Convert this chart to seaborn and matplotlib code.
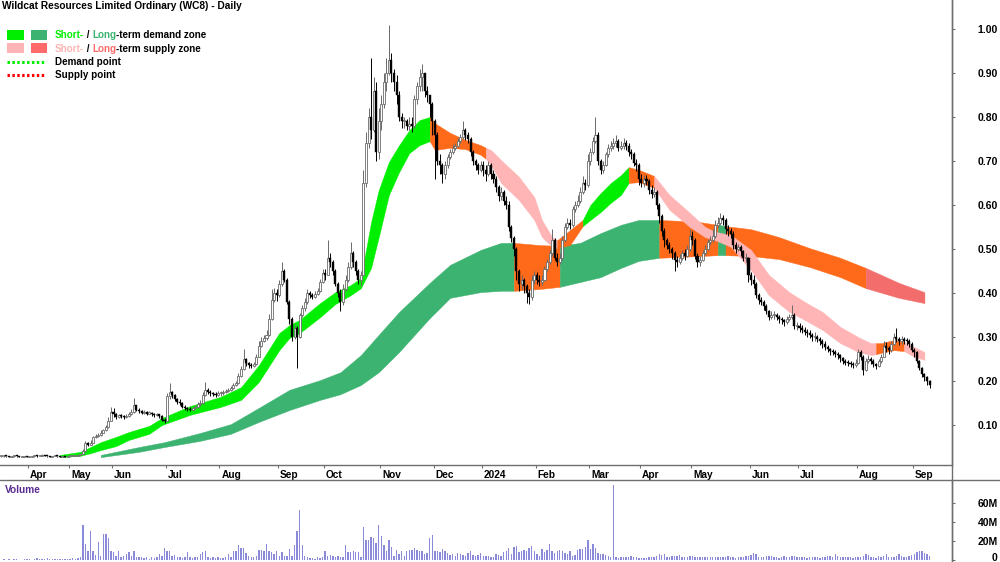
import numpy as np
import pandas as pd
import matplotlib
matplotlib.use("Agg")
import matplotlib.pyplot as plt
import seaborn as sns
from matplotlib.transforms import ScaledTranslation
from matplotlib.lines import Line2D
from matplotlib.patches import Rectangle

# ---------------- data ----------------
title = "Wildcat Resources Limited Ordinary (WC8) - Daily"
month_labels = ["Apr", "May", "Jun", "Jul", "Aug", "Sep", "Oct", "Nov", "Dec", "2024",
                "Feb", "Mar", "Apr", "May", "Jun", "Jul", "Aug", "Sep"]
# trading days per month, Mar-2023 .. Sep-2024
days_per_month = [11, 16, 17, 21, 21, 23, 18, 22, 21, 19, 21, 21, 20, 20, 23, 19, 23, 22, 7]

close = [
    0.029,0.030,0.029,0.028,0.029,0.030,0.029,0.028,0.028,0.029,0.028,
    0.028,0.029,0.030,0.029,0.030,0.031,0.030,0.029,0.028,0.029,0.030,0.029,0.028,0.029,0.028,0.029,
    0.029,0.030,0.030,0.031,0.033,0.040,0.058,0.055,0.060,0.072,0.075,0.078,0.082,0.088,0.095,0.110,0.130,
    0.125,0.118,0.122,0.120,0.118,0.121,0.125,0.130,0.145,0.135,0.132,0.128,0.130,0.126,0.128,0.125,0.123,0.125,0.120,0.112,0.108,
    0.165,0.175,0.168,0.158,0.152,0.150,0.142,0.138,0.136,0.135,0.138,0.140,0.148,0.150,0.168,0.180,0.176,0.172,0.170,0.168,0.172,
    0.172,0.175,0.178,0.180,0.184,0.190,0.195,0.212,0.228,0.250,0.240,0.236,0.235,0.238,0.255,0.280,0.292,0.298,0.305,0.340,0.385,0.400,0.395,
    0.420,0.450,0.430,0.380,0.340,0.300,0.320,0.300,0.350,0.365,0.380,0.400,0.395,0.392,0.398,0.405,0.425,0.445,
    0.440,0.480,0.470,0.450,0.420,0.400,0.380,0.410,0.430,0.460,0.490,0.470,0.450,0.430,0.440,0.650,0.740,0.800,0.770,0.860,0.720,0.790,
    0.830,0.880,0.900,0.930,0.900,0.880,0.850,0.800,0.790,0.790,0.780,0.785,0.780,0.840,0.870,0.890,0.900,0.860,0.850,0.830,0.790,
    0.760,0.700,0.690,0.670,0.690,0.710,0.720,0.730,0.735,0.745,0.755,0.770,0.760,0.750,0.720,0.700,0.690,0.680,0.690,
    0.680,0.670,0.690,0.670,0.660,0.640,0.620,0.630,0.610,0.600,0.550,0.525,0.500,0.450,0.420,0.430,0.415,0.400,0.390,0.430,0.440,
    0.430,0.425,0.430,0.455,0.470,0.490,0.520,0.480,0.470,0.480,0.520,0.550,0.560,0.555,0.590,0.600,0.610,0.630,0.650,0.645,0.700,
    0.720,0.745,0.760,0.700,0.680,0.690,0.715,0.730,0.735,0.740,0.745,0.730,0.735,0.740,0.735,0.720,0.715,0.695,0.690,0.660,
    0.650,0.660,0.655,0.635,0.625,0.630,0.600,0.575,0.540,0.520,0.510,0.500,0.490,0.475,0.470,0.480,0.490,0.485,0.500,0.530,
    0.520,0.485,0.470,0.475,0.490,0.500,0.515,0.520,0.530,0.555,0.560,0.570,0.565,0.545,0.540,0.535,0.510,0.500,0.505,0.495,0.480,0.480,0.440,
    0.430,0.420,0.395,0.385,0.380,0.370,0.360,0.345,0.350,0.350,0.345,0.340,0.338,0.335,0.340,0.345,0.350,0.325,0.325,
    0.320,0.315,0.312,0.308,0.305,0.300,0.300,0.295,0.290,0.285,0.278,0.272,0.268,0.265,0.262,0.258,0.252,0.245,0.242,0.240,0.238,0.236,0.240,
    0.265,0.255,0.225,0.245,0.250,0.245,0.238,0.235,0.245,0.255,0.280,0.275,0.270,0.285,0.300,0.295,0.290,0.295,0.292,0.290,0.285,0.270,
    0.265,0.245,0.230,0.215,0.210,0.200,0.190,
]
high = [
    0.031,0.031,0.030,0.030,0.030,0.031,0.030,0.030,0.029,0.030,0.029,
    0.030,0.030,0.031,0.031,0.031,0.033,0.032,0.030,0.030,0.030,0.031,0.030,0.030,0.030,0.029,0.030,
    0.030,0.031,0.031,0.032,0.036,0.045,0.064,0.062,0.065,0.076,0.080,0.082,0.088,0.092,0.100,0.118,0.142,
    0.138,0.128,0.126,0.125,0.122,0.125,0.130,0.136,0.162,0.146,0.138,0.134,0.134,0.132,0.132,0.130,0.128,0.128,0.126,0.122,0.115,
    0.172,0.195,0.178,0.170,0.162,0.158,0.152,0.145,0.142,0.140,0.142,0.146,0.152,0.156,0.175,0.198,0.185,0.180,0.176,0.174,0.177,
    0.178,0.180,0.182,0.185,0.188,0.195,0.200,0.218,0.235,0.272,0.252,0.244,0.241,0.244,0.262,0.290,0.300,0.305,0.315,0.352,0.410,0.412,0.408,
    0.430,0.470,0.455,0.435,0.385,0.345,0.330,0.325,0.355,0.372,0.388,0.408,0.405,0.400,0.404,0.412,0.432,0.455,
    0.455,0.520,0.490,0.475,0.455,0.425,0.410,0.420,0.440,0.470,0.515,0.495,0.475,0.455,0.450,0.680,0.765,0.820,0.935,0.890,0.880,0.820,
    0.850,0.900,0.935,1.010,0.945,0.910,0.895,0.860,0.810,0.800,0.795,0.800,0.800,0.850,0.880,0.910,0.920,0.900,0.870,0.850,0.835,
    0.795,0.765,0.715,0.695,0.700,0.715,0.728,0.738,0.742,0.752,0.762,0.790,0.775,0.765,0.755,0.725,0.705,0.695,0.700,
    0.700,0.690,0.700,0.695,0.680,0.665,0.645,0.640,0.635,0.620,0.610,0.555,0.530,0.505,0.455,0.440,0.435,0.420,0.410,0.440,0.450,
    0.448,0.440,0.440,0.462,0.478,0.498,0.545,0.525,0.490,0.490,0.530,0.560,0.570,0.568,0.598,0.610,0.622,0.640,0.665,0.660,0.715,
    0.730,0.755,0.800,0.765,0.705,0.700,0.720,0.738,0.745,0.752,0.760,0.750,0.745,0.752,0.748,0.740,0.728,0.720,0.705,0.695,
    0.670,0.668,0.668,0.660,0.645,0.640,0.635,0.605,0.580,0.548,0.525,0.515,0.505,0.495,0.485,0.488,0.498,0.500,0.510,0.545,
    0.540,0.525,0.490,0.485,0.498,0.508,0.522,0.530,0.545,0.565,0.572,0.582,0.578,0.570,0.555,0.548,0.540,0.515,0.512,0.508,0.498,0.490,0.482,
    0.448,0.440,0.425,0.400,0.392,0.385,0.375,0.362,0.358,0.358,0.355,0.350,0.345,0.342,0.348,0.352,0.372,0.355,0.335,
    0.332,0.328,0.322,0.318,0.315,0.310,0.312,0.305,0.300,0.295,0.290,0.282,0.276,0.272,0.270,0.266,0.262,0.255,0.250,0.247,0.245,0.243,0.250,
    0.272,0.270,0.258,0.252,0.258,0.255,0.250,0.242,0.250,0.262,0.290,0.288,0.280,0.292,0.308,0.320,0.300,0.302,0.300,0.298,0.295,0.288,
    0.275,0.268,0.248,0.232,0.218,0.212,0.202,
]
low = [
    0.028,0.028,0.028,0.027,0.028,0.028,0.028,0.027,0.027,0.028,0.027,
    0.027,0.028,0.028,0.028,0.029,0.029,0.029,0.028,0.027,0.028,0.029,0.028,0.027,0.028,0.027,0.028,
    0.028,0.029,0.029,0.030,0.031,0.033,0.040,0.052,0.054,0.060,0.070,0.073,0.076,0.082,0.087,0.094,0.108,
    0.118,0.114,0.116,0.116,0.114,0.116,0.119,0.123,0.128,0.132,0.128,0.124,0.125,0.122,0.124,0.121,0.119,0.120,0.116,0.108,0.104,
    0.108,0.160,0.162,0.155,0.148,0.145,0.138,0.134,0.132,0.131,0.133,0.136,0.139,0.144,0.148,0.165,0.170,0.166,0.165,0.163,0.165,
    0.166,0.169,0.172,0.175,0.178,0.182,0.188,0.193,0.210,0.226,0.234,0.230,0.229,0.232,0.236,0.254,0.278,0.288,0.294,0.302,0.338,0.380,0.382,
    0.392,0.415,0.425,0.375,0.330,0.290,0.295,0.230,0.298,0.345,0.360,0.376,0.388,0.386,0.388,0.396,0.402,0.422,
    0.430,0.440,0.460,0.440,0.415,0.390,0.360,0.372,0.405,0.425,0.455,0.460,0.440,0.420,0.415,0.440,0.640,0.730,0.750,0.765,0.700,0.705,
    0.770,0.820,0.860,0.895,0.880,0.860,0.830,0.790,0.775,0.775,0.770,0.770,0.765,0.775,0.830,0.860,0.860,0.845,0.835,0.800,0.760,
    0.660,0.690,0.670,0.650,0.660,0.685,0.705,0.715,0.725,0.732,0.740,0.750,0.748,0.740,0.712,0.690,0.680,0.670,0.675,
    0.665,0.655,0.665,0.660,0.650,0.630,0.610,0.612,0.600,0.590,0.540,0.515,0.485,0.430,0.405,0.410,0.400,0.377,0.375,0.385,0.420,
    0.420,0.415,0.418,0.428,0.450,0.465,0.485,0.475,0.462,0.465,0.475,0.515,0.545,0.545,0.550,0.585,0.595,0.605,0.625,0.635,0.640,
    0.690,0.715,0.740,0.690,0.670,0.672,0.688,0.710,0.722,0.728,0.732,0.722,0.725,0.728,0.725,0.712,0.705,0.688,0.678,0.645,
    0.640,0.642,0.645,0.625,0.615,0.618,0.590,0.560,0.530,0.505,0.500,0.490,0.478,0.450,0.460,0.466,0.475,0.476,0.482,0.495,
    0.510,0.478,0.458,0.462,0.472,0.486,0.498,0.510,0.515,0.525,0.548,0.555,0.555,0.535,0.530,0.525,0.500,0.492,0.495,0.485,0.472,0.470,0.425,
    0.418,0.412,0.388,0.376,0.372,0.362,0.352,0.338,0.340,0.342,0.338,0.332,0.330,0.326,0.330,0.336,0.340,0.318,0.315,
    0.312,0.308,0.305,0.300,0.298,0.292,0.292,0.288,0.282,0.276,0.270,0.265,0.260,0.258,0.255,0.250,0.244,0.238,0.236,0.234,0.232,0.230,0.232,
    0.238,0.248,0.213,0.222,0.240,0.238,0.232,0.228,0.232,0.240,0.255,0.265,0.262,0.265,0.282,0.288,0.282,0.285,0.285,0.282,0.278,0.265,
    0.255,0.240,0.225,0.208,0.200,0.192,0.185,
]
# daily volume, millions of shares
volume_m = [
    0.5,0.8,0.5,1,0.5,0.6,0.8,0.5,0.5,0.8,1,0.6,0.5,1.5,2,0.8,1,1.5,2,1,0.8,1.2,0.6,0.8,1.5,1,0.8,1.2,2,1.5,2.5,3,
    37,17,10,30,9,5,19,4,27,27,23,9,8,4,9,3,4,6,8,4,9,3,3,3,2,3,1,3,2,3,
    6,4,13,9,10,4,5,3,3,2,3,8,3,2,3,3,6,8,10,3,2,3,2,3,2,2,3,6,3,9,
    10,16,13,13,7,4,3,3,4,11,11,9,17,9,8,6,9,4,8,4,4,12,4,16,30,53,
    16,4,3,2,2,1,3,2,3,9,4,5,4,3,4,3,3,16,8,8,9,8,8,3,
    35,21,21,24,23,18,37,25,16,9,21,14,4,11,6,9,4,9,11,11,13,11,10,10,6,7,23,26,9,10,
    8,12,9,7,5,6,4,7,6,5,4,7,10,5,4,5,7,4,4,4,3,3,6,5,4,
    8,9,13,6,14,15,8,10,11,9,13,15,10,6,4,12,8,11,17,10,7,10,11,9,7,6,9,4,5,11,
    12,12,14,21,12,17,13,7,6,6,5,4,3,79,3,2.5,3,3,3,3,4,3.5,3,2,2,2,2,3.5,3,3.5,
    4,6,5,6,3.5,3,4,4,4,5,3.5,3,3.5,4,4,3.5,3.5,3.5,3.5,3,3.5,3.5,3.5,3.5,3.5,3.5,3.5,3,4,3.5,
    3,2.5,3.5,3,3,4,4,5,7,6,3.5,3,3.5,4,4,4,3,3.5,2,3,4,3.5,3,4,4,3,3.5,3.5,3,2,
    3,3,3,3,2,3,3.5,4,4,3,6,4,3,3,3,3,3,2,3,3,3.5,4,6,5,3.5,3,2,4,3.5,4,
    6,3.5,3,3,4,6,4,3,3.5,4,5,6,8,10,9,7,6,4,
]

# short-term zone edges (candle index, upper, lower)
st_idx = [23, 31, 35, 39, 45, 50, 58, 63, 74, 86, 94, 101, 109, 113, 117, 125, 131, 137, 141, 145,
          148, 152, 156, 160, 164, 168, 170, 176, 182, 188, 190, 192, 196, 203, 209, 212, 216, 218, 223, 228,
          231, 235, 239, 243, 246, 250, 256, 262, 270, 276, 280, 286, 294, 301, 309, 315, 322, 329, 336, 341,
          343, 345, 350, 354, 358, 362]
st_hi = [0.032, 0.039, 0.050, 0.061, 0.073, 0.084, 0.098, 0.116, 0.143, 0.164, 0.186, 0.236, 0.309, 0.327, 0.339, 0.377, 0.402, 0.418, 0.434, 0.561,
         0.634, 0.698, 0.736, 0.770, 0.793, 0.800, 0.786, 0.764, 0.748, 0.736, 0.730, 0.725, 0.702, 0.664, 0.618, 0.566, 0.527, 0.520, 0.543, 0.566,
         0.600, 0.627, 0.650, 0.668, 0.686, 0.680, 0.666, 0.623, 0.582, 0.550, 0.539, 0.532, 0.498, 0.441, 0.402, 0.380, 0.357, 0.323, 0.300, 0.286,
         0.286, 0.286, 0.293, 0.289, 0.277, 0.266]
st_lo = [0.027, 0.030, 0.036, 0.043, 0.052, 0.066, 0.080, 0.100, 0.123, 0.141, 0.157, 0.198, 0.270, 0.298, 0.309, 0.345, 0.375, 0.395, 0.411, 0.457,
         0.527, 0.623, 0.675, 0.718, 0.736, 0.745, 0.725, 0.730, 0.727, 0.714, 0.705, 0.691, 0.650, 0.611, 0.566, 0.527, 0.505, 0.502, 0.509, 0.552,
         0.566, 0.584, 0.605, 0.623, 0.650, 0.652, 0.639, 0.589, 0.550, 0.527, 0.520, 0.505, 0.452, 0.395, 0.357, 0.339, 0.316, 0.286, 0.266, 0.259,
         0.261, 0.264, 0.270, 0.268, 0.255, 0.248]
st_breaks = [23, 168, 190, 218, 228, 246, 256, 343, 354, 362]
st_states = ["demand", "mixed", "supply", "mixed", "demand", "mixed", "supply", "mixed", "supply"]

# long-term zone edges
lt_idx = [39, 54, 64, 78, 90, 101, 113, 125, 133, 141, 148, 156, 168, 176, 188, 196, 201, 211, 219, 227,
          235, 243, 250, 258, 266, 274, 281, 284, 294, 305, 317, 329, 339, 352, 362]
lt_hi = [0.032, 0.050, 0.061, 0.082, 0.102, 0.139, 0.180, 0.202, 0.220, 0.259, 0.305, 0.357, 0.423, 0.464, 0.498, 0.514, 0.514, 0.509, 0.507, 0.514,
         0.536, 0.555, 0.566, 0.566, 0.564, 0.561, 0.555, 0.552, 0.545, 0.527, 0.502, 0.480, 0.457, 0.423, 0.402]
lt_lo = [0.027, 0.039, 0.050, 0.064, 0.080, 0.107, 0.134, 0.157, 0.170, 0.191, 0.220, 0.266, 0.343, 0.389, 0.402, 0.405, 0.405, 0.409, 0.414, 0.425,
         0.436, 0.457, 0.473, 0.480, 0.482, 0.484, 0.486, 0.486, 0.484, 0.477, 0.459, 0.436, 0.411, 0.389, 0.377]
lt_breaks = [39, 201, 219, 258, 281, 284, 339, 362]
lt_states = ["demand", "mixed", "demand", "mixed", "demand", "mixed", "supply"]

# ---------------- style ----------------
sns.set_theme(style="white")
plt.rcParams["font.family"] = ["Liberation Sans", "DejaVu Sans"]
plt.rcParams["font.weight"] = "bold"

C_ST = {"demand": "#00ee00", "supply": "#ffb5b5", "mixed": "#ff6a1a"}
C_LT = {"demand": "#3cb371", "supply": "#f46d6d", "mixed": "#ff6a1a"}
AXC = "#6e6e6e"

W, H = 1000, 562
fig = plt.figure(figsize=(W / 100, H / 100), dpi=100)
ax = fig.add_axes([0, 1 - 465 / H, 952 / W, 465 / H])
axv = fig.add_axes([0, 0, 952 / W, 82 / H])

n = len(close)
idx = np.arange(n)
c = np.array(close)
o = np.r_[c[0], c[:-1]]
hi = np.array(high)
lo = np.array(low)


def draw_band(xs, up, dn, breaks, states, cmap, z):
    xs = np.array(xs); up = np.array(up); dn = np.array(dn)
    for a, b, s in zip(breaks[:-1], breaks[1:], states):
        m = (xs >= a) & (xs <= b)
        ax.fill_between(xs[m], dn[m], up[m], color=cmap[s], lw=0.3, edgecolor=cmap[s], zorder=z)


draw_band(lt_idx, lt_hi, lt_lo, lt_breaks, lt_states, C_LT, 1)
draw_band(st_idx, st_hi, st_lo, st_breaks, st_states, C_ST, 2)

upm = c >= o
bot = np.minimum(o, c)
hgt = np.maximum(np.abs(c - o), 0.0025)
ax.vlines(idx[upm], lo[upm], hi[upm], color="#6a6a6a", lw=0.7, zorder=3)
ax.vlines(idx[~upm], lo[~upm], hi[~upm], color="black", lw=0.7, zorder=3)
ax.bar(idx[upm], hgt[upm], bottom=bot[upm], width=0.8, color="white", edgecolor="#6a6a6a", linewidth=0.6, zorder=4)
ax.bar(idx[~upm], hgt[~upm], bottom=bot[~upm], width=0.8, color="black", edgecolor="black", linewidth=0.3, zorder=4)

xlim = (-0.51, 372.8)
ax.set_xlim(*xlim)
ax.set_ylim(0.0091, 1.0659)
ax.set_facecolor("white")
for s in ["left", "top"]:
    ax.spines[s].set_visible(False)
for s in ["right", "bottom"]:
    ax.spines[s].set_color(AXC)
    ax.spines[s].set_linewidth(1)

ax.yaxis.tick_right()
yt = [0.1, 0.2, 0.3, 0.4, 0.5, 0.6, 0.7, 0.8, 0.9, 1.0]
ax.set_yticks(yt)
ax.set_yticklabels([f"{v:.2f}" for v in yt])
ax.tick_params(axis="y", direction="out", length=2.5, width=0.8, color=AXC, pad=30.5,
               labelsize=7.5, labelcolor="black")
for t in ax.get_yticklabels():
    t.set_ha("right"); t.set_fontweight("bold")

starts = np.cumsum([0] + days_per_month[:-1])
ax.set_xticks(starts[1:] - 0.5)
ax.set_xticklabels(month_labels)
ax.tick_params(axis="x", direction="out", length=2.5, width=0.8, color=AXC, pad=1.2,
               labelsize=7.3, labelcolor="black", bottom=True)
shift = ScaledTranslation(2 / 100, 0, fig.dpi_scale_trans)
for t in ax.get_xticklabels():
    t.set_ha("left"); t.set_fontweight("bold")
    t.set_transform(t.get_transform() + shift)
ax.grid(False)

# volume (seaborn)
vdf = pd.DataFrame({"i": idx, "vol": volume_m})
sns.barplot(data=vdf, x="i", y="vol", native_scale=True, width=0.55, color="#8a8ad8",
            saturation=1, errorbar=None, linewidth=0, ax=axv)
axv.set_xlim(*xlim)
axv.set_ylim(-2.1, 84.2)
axv.set_xlabel(""); axv.set_ylabel("")
axv.set_xticks([])
for s in ["left", "top", "bottom"]:
    axv.spines[s].set_visible(False)
axv.spines["right"].set_color(AXC)
axv.spines["right"].set_linewidth(1)
axv.yaxis.tick_right()
axv.set_yticks([0, 20, 40, 60])
axv.set_yticklabels(["0", "20M", "40M", "60M"])
axv.tick_params(axis="y", direction="out", length=2.5, width=0.8, color=AXC, pad=30.5,
                labelsize=7.5, labelcolor="black")
up_shift = ScaledTranslation(0, 3 / 100, fig.dpi_scale_trans)
for t in axv.get_yticklabels():
    t.set_ha("right"); t.set_fontweight("bold")
    if t.get_text() == "0":
        t.set_transform(t.get_transform() + up_shift)
axv.grid(False)
axv.set_facecolor("white")

# frame lines
fig.add_artist(Line2D([0, 1], [1 - 480 / H] * 2, color=AXC, lw=1, transform=fig.transFigure))
fig.add_artist(Line2D([952 / W] * 2, [0, 1], color=AXC, lw=1, transform=fig.transFigure))


def px(x, y):
    return x / W, 1 - y / H


fig.text(*px(2, 1), title, ha="left", va="top", fontsize=7.3, fontweight="bold", color="black")
fig.text(*px(5, 490), "Volume", ha="left", va="center", fontsize=7.3, fontweight="bold", color="#5a2d91")

# legend
def rect(x0, y0, x1, y1, col):
    fig.add_artist(Rectangle(px(x0, y1), (x1 - x0) / W, (y1 - y0) / H, transform=fig.transFigure,
                             facecolor=col, edgecolor="none"))


rect(7, 30, 24, 40, C_ST["demand"]); rect(31, 30, 47, 40, C_LT["demand"])
rect(7, 43, 24, 53, C_ST["supply"]); rect(31, 43, 47, 53, "#ff6b6b")
fig.add_artist(Line2D([7 / W, 45 / W], [1 - 62 / H] * 2, color="#00ee00", lw=2.2,
                      dashes=(0.8, 0.8), transform=fig.transFigure))
fig.add_artist(Line2D([7 / W, 45 / W], [1 - 74.5 / H] * 2, color="#ff0000", lw=2.2,
                      dashes=(0.8, 0.8), transform=fig.transFigure))

renderer = fig.canvas.get_renderer()


def chain(x, y, parts):
    fx, fy = px(x, y)
    for s, col in parts:
        t = fig.text(fx, fy, s, ha="left", va="center", fontsize=7.1, fontweight="bold", color=col)
        bb = t.get_window_extent(renderer)
        fx = bb.x1 / fig.bbox.width


chain(55, 35, [("Short-", C_ST["demand"]), (" / ", "black"), ("Long", C_LT["demand"]),
               ("-term demand zone", "black")])
chain(55, 48.5, [("Short-", C_ST["supply"]), (" / ", "black"), ("Long", "#ff6b6b"),
                 ("-term supply zone", "black")])
chain(55, 62, [("Demand point", "black")])
chain(55, 75, [("Supply point", "black")])

fig.savefig("out.png", dpi=100, facecolor="white")
